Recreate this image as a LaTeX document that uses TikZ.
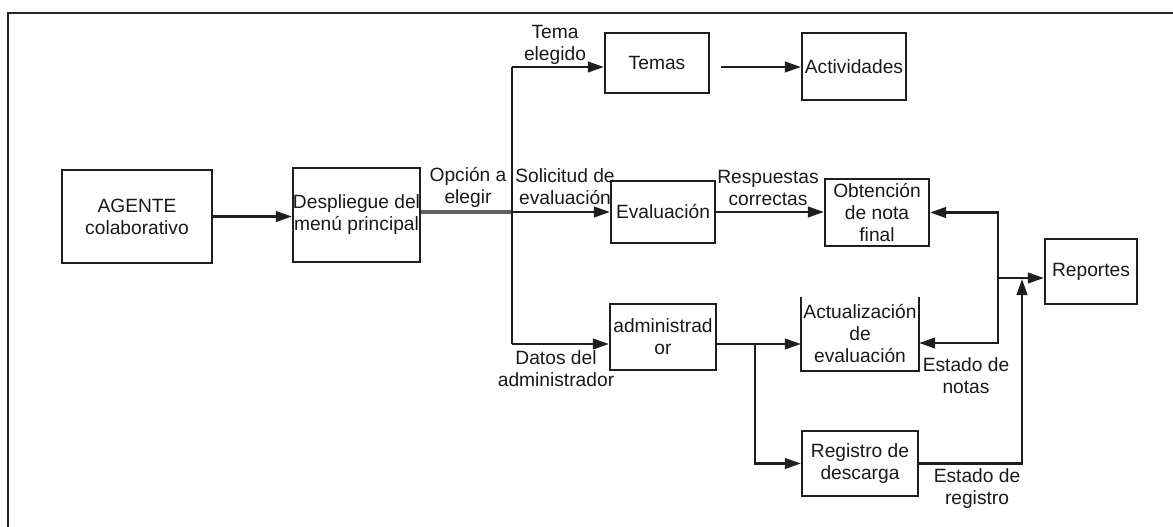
\documentclass[tikz,border=0pt]{standalone}
\usepackage{fontspec}
\setmainfont{Liberation Sans}
\usetikzlibrary{arrows.meta,calc}
\begin{document}
\begin{tikzpicture}[x=0.75pt,y=-0.75pt,
  txt/.style={font=\fontsize{14.4}{16.5}\selectfont, align=center, text=black!90},
  box/.style 2 args={draw=black!88, line width=1.7pt, minimum width=#1*0.75pt, minimum height=#2*0.75pt, inner sep=0pt, txt},
  openbox/.style 2 args={box={#1}{#2}, draw=none},
  lbl/.style={inner sep=0pt, txt},
  conn/.style={line width=1.6pt, draw=black!88},
  arr/.style={conn, -{Triangle[length=12pt,width=8pt]}}]
\useasboundingbox (0,0) rectangle (1173,527);

% frame
\draw[line width=2.2pt, black!85] (8,527) -- (8,13) -- (1173,13);

% boxes
\node[box={150}{93}] (agente) at (137,216.5) {AGENTE\\colaborativo};
\node[box={127}{94}] (despl) at (356.5,215) {Despliegue del\\menú principal};
\node[box={104}{60}] (temas) at (657,63) {Temas};
\node[box={104}{67}] (activ) at (854,66.5) {Actividades};
\node[box={104}{62}] (evalua) at (663,212) {Evaluación};
\node[box={104}{67}] (obten) at (877,212.5) {Obtención\\de nota\\final};
\node[box={106}{66}] (admin) at (663,337) {administrad\\or};
\node[openbox={116}{72}] (actual) at (860,334) {Actualización\\de\\evaluación};
\draw[conn, line width=1.7pt] (actual.north west) -- (actual.south west) -- (actual.south east) -- (actual.north east);
\node[box={116}{65}] (regis) at (860,463.5) {Registro de\\descarga};
\node[box={92}{65}] (report) at (1091,271.5) {Reportes};

% junction points
\coordinate (jt) at (512,67);
\coordinate (jm) at (512,212);
\coordinate (jb) at (512,344);
\coordinate (ta) at (721,67);
\coordinate (ja) at (755,344);
\coordinate (jr) at (998,278);
\coordinate (jn) at (998,343);
\coordinate (ju) at (1022,463.5);
\coordinate (jup) at (1022,279);

% connectors
\draw[arr] (agente.east) -- (agente.east -| despl.west);
\draw[line width=2.4pt, gray!75!black] (despl.east |- jm) -- (jm);
\draw[conn] (jt) -- (jb);
\draw[arr] (jt) -- (jt -| temas.west);
\draw[arr] (ta) -- (ta -| activ.west);
\draw[arr] (jm) -- (jm -| evalua.west);
\draw[arr] (evalua.east) -- (evalua.east -| obten.west);
\draw[arr] (jb) -- (jb -| admin.west);
\draw[arr] (admin.east |- ja) -- (ja -| actual.west);
\draw[arr] (ja) |- (regis.west);
\draw[arr] (jr) -- (jr -| report.west);
\draw[arr] (jr) |- (obten.east);
\draw[arr] (jr) -- (jn) -- (jn -| actual.east);
\draw[arr] (regis.east) -- (ju) -- (jup);

% labels
\node[lbl] (ltema) at (555,45) {Tema\\elegido};
\node[lbl] (lopc) at (468,187) {Opción a\\elegir};
\node[lbl] (lsol) at (565,187) {Solicitud de\\evaluación};
\node[lbl] (lresp) at (768,188) {Respuestas\\correctas};
\node[lbl] (ldatos) at (556,369) {Datos del\\administrador};
\node[lbl] (lnotas) at (966,376) {Estado de\\notas};
\node[lbl] (lreg) at (977,489) {Estado de\\registro};
\end{tikzpicture}
\end{document}
